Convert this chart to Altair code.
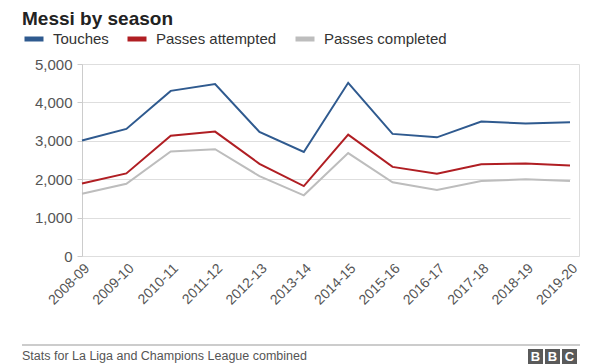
import altair as alt
import pandas as pd

seasons = ["2008-09", "2009-10", "2010-11", "2011-12", "2012-13", "2013-14",
           "2014-15", "2015-16", "2016-17", "2017-18", "2018-19", "2019-20"]
touches = [3010, 3310, 4300, 4480, 3230, 2710, 4510, 3180, 3090, 3500, 3450, 3480]
passes_attempted = [1890, 2150, 3130, 3240, 2400, 1820, 3160, 2320, 2140, 2390, 2410, 2360]
passes_completed = [1620, 1880, 2720, 2780, 2080, 1580, 2680, 1920, 1720, 1950, 2000, 1950]

series_names = ["Touches", "Passes attempted", "Passes completed"]
series_colors = ["#2f5a8f", "#b01e23", "#bdbdbd"]

title_text = "Messi by season"
footer_text = "Stats for La Liga and Champions League combined"
logo_letters = ["B", "B", "C"]

rows = []
for name, vals in zip(series_names, [touches, passes_attempted, passes_completed]):
    for s, v in zip(seasons, vals):
        rows.append({"season": s, "series": name, "value": v})
df = pd.DataFrame(rows)

FONT = "Liberation Sans"

lines = alt.Chart(df).mark_line(strokeWidth=2).encode(
    x=alt.X("season:N", sort=seasons, title=None,
            scale=alt.Scale(type="point", range=[0, 488], padding=0),
            axis=alt.Axis(labelAngle=-45, labelFontSize=14, labelColor="#555555",
                          labelFont=FONT, domain=False, ticks=False, grid=False,
                          labelPadding=5, labelAlign="right", labelBaseline="top")),
    y=alt.Y("value:Q", title=None,
            scale=alt.Scale(domain=[0, 5000], nice=False),
            axis=alt.Axis(values=[0, 1000, 2000, 3000, 4000, 5000], format=",.0f",
                          labelFontSize=15, labelColor="#555555", labelFont=FONT,
                          gridColor="#dedede", domainColor="#cccccc", tickColor="#cccccc",
                          tickSize=5, labelPadding=5)),
    color=alt.Color("series:N", sort=series_names,
                    scale=alt.Scale(domain=series_names, range=series_colors),
                    legend=alt.Legend(title=None, orient="none", legendX=-60, legendY=-37,
                                      direction="horizontal", symbolType="stroke",
                                      symbolSize=361, symbolStrokeWidth=5,
                                      labelFontSize=15, labelFont=FONT, labelColor="#333333",
                                      columnPadding=8, labelOffset=7)),
)

title = alt.Chart(pd.DataFrame({"t": [title_text]})).mark_text(
    align="left", baseline="alphabetic", fontSize=19, fontWeight="bold",
    font=FONT, color="#222222"
).encode(text="t:N", x=alt.value(-60), y=alt.value(-39))

footer_rule = alt.Chart(pd.DataFrame({"a": [0]})).mark_rule(
    color="#999999", strokeWidth=1
).encode(x=alt.value(-60), x2=alt.value(498), y=alt.value(281))

footer = alt.Chart(pd.DataFrame({"t": [footer_text]})).mark_text(
    align="left", baseline="alphabetic", fontSize=12.5, font=FONT, color="#555555"
).encode(text="t:N", x=alt.value(-60), y=alt.value(296))

layers = [lines, title, footer_rule, footer]
for i, letter in enumerate(logo_letters):
    x0 = 446 + i * 17
    box = alt.Chart(pd.DataFrame({"a": [0]})).mark_rect(color="#5a5a5a").encode(
        x=alt.value(x0), x2=alt.value(x0 + 15), y=alt.value(285), y2=alt.value(300))
    txt = alt.Chart(pd.DataFrame({"t": [letter]})).mark_text(
        align="center", baseline="middle", fontSize=13, fontWeight="bold",
        font=FONT, color="white"
    ).encode(text="t:N", x=alt.value(x0 + 7.5), y=alt.value(293))
    layers += [box, txt]

chart = alt.layer(*layers).properties(
    width=497, height=192,
    autosize=alt.AutoSizeParams(type="none"),
    padding={"left": 74, "top": 56, "right": 13, "bottom": 110},
).configure_view(stroke=None).configure(background="white")

chart.save("out.html", embed_options={"renderer": "svg", "actions": False})
